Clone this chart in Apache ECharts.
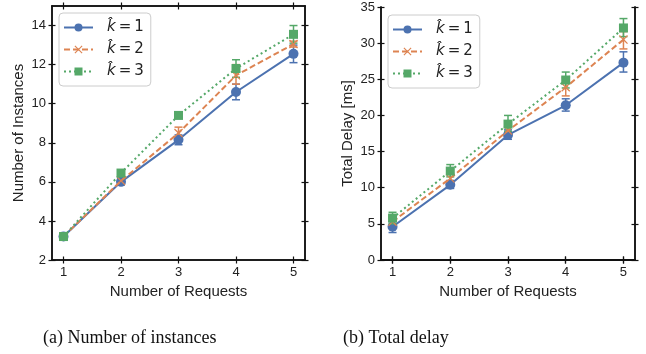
<!DOCTYPE html>
<html><head><meta charset="utf-8">
<script src="https://cdn.jsdelivr.net/npm/echarts@6/dist/echarts.min.js"></script>
<style>html,body{margin:0;padding:0;background:#fff}#c{width:646px;height:354px}</style>
</head><body><div id="c"></div>
<script>
const requests = [1, 2, 3, 4, 5];
const seriesNames = ['k1', 'k2', 'k3'];
const seriesLabels = ['1', '2', '3'];
const instTicks = [2, 4, 6, 8, 10, 12, 14];
const delayTicks = [0, 5, 10, 15, 20, 25, 30, 35];

const instK1 = [3.2, 6.0, 8.15, 10.6, 12.55];
const instK1Lo = [3.2, 5.85, 7.9, 10.2, 12.1];
const instK1Hi = [3.2, 6.15, 8.4, 11.0, 13.0];
const instK2 = [3.2, 6.05, 8.5, 11.45, 13.05];
const instK2Lo = [3.2, 5.85, 8.2, 11.0, 12.9];
const instK2Hi = [3.2, 6.25, 8.8, 12.0, 13.2];
const instK3 = [3.2, 6.45, 9.4, 11.8, 13.55];
const instK3Lo = [3.2, 6.3, 9.25, 11.35, 13.1];
const instK3Hi = [3.2, 6.6, 9.55, 12.25, 14.0];

const delayK1 = [4.6, 10.4, 17.3, 21.4, 27.3];
const delayK1Lo = [3.8, 9.9, 16.7, 20.6, 26.0];
const delayK1Hi = [5.3, 11.0, 18.0, 22.3, 28.8];
const delayK2 = [5.3, 11.3, 17.9, 23.9, 30.5];
const delayK2Lo = [4.6, 10.6, 17.2, 22.7, 29.2];
const delayK2Hi = [6.0, 12.0, 18.7, 25.2, 31.6];
const delayK3 = [5.8, 12.3, 18.8, 24.9, 32.1];
const delayK3Lo = [5.0, 11.5, 17.8, 23.8, 30.9];
const delayK3Hi = [6.6, 13.2, 20.0, 26.0, 33.4];

const colors = ['#4C72B0', '#DD8452', '#55A868'];
const lineTypes = ['solid', [6, 3], [2, 3]];
const xSym = 'path://M1,0L5,4L9,0L10,1L6,5L10,9L9,10L5,6L1,10L0,9L4,5L0,1Z';
const symbols = ['circle', xSym, 'rect'];
const symSizes = [10, 9, 9];

const font = 'Liberation Sans, Arial, sans-serif';
const tickColor = '#222';

function xAxes(g) {
  const base = {gridIndex: g, type: 'value', min: 0.8, max: 5.2,
    axisLine: {lineStyle: {color: '#111', width: 1.5}}, splitLine: {show: false}};
  const tk = (inside) => ({show: true, inside: inside, length: 3.5, customValues: requests, lineStyle: {color: '#111', width: 1.2}});
  return [
    Object.assign({}, base, {position: 'bottom', axisTick: tk(false),
      axisLabel: {customValues: requests, color: tickColor, fontSize: 13, fontFamily: font, margin: 6},
      name: 'Number of Requests', nameLocation: 'middle', nameGap: 23,
      nameTextStyle: {color: tickColor, fontSize: 15, fontFamily: font}}),
    Object.assign({}, base, {position: 'bottom', axisTick: tk(true), axisLabel: {show: false}}),
    Object.assign({}, base, {position: 'top', axisTick: tk(false), axisLabel: {show: false}}),
    Object.assign({}, base, {position: 'top', axisTick: tk(true), axisLabel: {show: false}})
  ];
}
function yAxes(g, min, max, ticks, name) {
  const base = {gridIndex: g, type: 'value', min: min, max: max,
    axisLine: {show: true, lineStyle: {color: '#111', width: 1.5}}, splitLine: {show: false}};
  const tk = (inside) => ({show: true, inside: inside, length: 3.5, customValues: ticks, lineStyle: {color: '#111', width: 1.2}});
  return [
    Object.assign({}, base, {position: 'left', axisTick: tk(false),
      axisLabel: {customValues: ticks, color: tickColor, fontSize: 13, fontFamily: font, margin: 6},
      name: name, nameLocation: 'middle', nameGap: 26,
      nameTextStyle: {color: tickColor, fontSize: 15, fontFamily: font}}),
    Object.assign({}, base, {position: 'left', axisTick: tk(true), axisLabel: {show: false}}),
    Object.assign({}, base, {position: 'right', axisTick: tk(false), axisLabel: {show: false}}),
    Object.assign({}, base, {position: 'right', axisTick: tk(true), axisLabel: {show: false}})
  ];
}

function lineSeries(g, i, vals) {
  return {type: 'line', name: seriesNames[i], xAxisIndex: g * 4, yAxisIndex: g * 4,
    data: requests.map((r, k) => [r, vals[k]]),
    symbol: symbols[i], symbolSize: symSizes[i], showAllSymbol: true,
    lineStyle: {color: colors[i], width: 2, type: lineTypes[i]},
    itemStyle: {color: colors[i], borderWidth: 0},
    emphasis: {disabled: true}, animation: false, z: 3 + i};
}
function errSeries(g, i, lo, hi) {
  return {type: 'custom', name: 'err' + g + i, xAxisIndex: g * 4, yAxisIndex: g * 4,
    data: requests.map((r, k) => [r, lo[k], hi[k]]),
    renderItem: function (params, api) {
      const p1 = api.coord([api.value(0), api.value(1)]);
      const p2 = api.coord([api.value(0), api.value(2)]);
      const w = 4;
      const st = {stroke: colors[i], lineWidth: 1.5};
      return {type: 'group', children: [
        {type: 'line', shape: {x1: p1[0], y1: p1[1], x2: p2[0], y2: p2[1]}, style: st},
        {type: 'line', shape: {x1: p1[0] - w, y1: p1[1], x2: p1[0] + w, y2: p1[1]}, style: st},
        {type: 'line', shape: {x1: p2[0] - w, y1: p2[1], x2: p2[0] + w, y2: p2[1]}, style: st}
      ]};
    },
    animation: false, z: 2 + i, silent: true};
}

const inst = [[instK1, instK1Lo, instK1Hi], [instK2, instK2Lo, instK2Hi], [instK3, instK3Lo, instK3Hi]];
const delay = [[delayK1, delayK1Lo, delayK1Hi], [delayK2, delayK2Lo, delayK2Hi], [delayK3, delayK3Lo, delayK3Hi]];
const series = [];
[inst, delay].forEach((set, g) => {
  set.forEach((s, i) => {
    series.push(errSeries(g, i, s[1], s[2]));
    series.push(lineSeries(g, i, s[0]));
  });
});

function legend(left, top) {
  return {orient: 'vertical', left: left, top: top, itemWidth: 29, itemHeight: 10, itemGap: 7,
    padding: [7, 7, 7, 4], borderColor: '#ccc', borderWidth: 1, borderRadius: 4,
    backgroundColor: 'rgba(255,255,255,0.85)',
    data: seriesNames, selectedMode: false,
    formatter: function (n) { return '{k|k\u0302}{t|\u2009=\u2009' + seriesLabels[seriesNames.indexOf(n)] + '}'; },
    textStyle: {color: tickColor, fontSize: 15, padding: [0, 0, 0, 9],
      rich: {
        k: {fontFamily: 'DejaVu Sans', fontStyle: 'italic', fontSize: 15, color: tickColor, lineHeight: 18},
        t: {fontFamily: 'DejaVu Sans', fontSize: 15, color: tickColor, lineHeight: 18}
      }}};
}

const chart = echarts.init(document.getElementById('c'), null, {renderer: 'canvas'});
chart.setOption({
  backgroundColor: '#fff',
  animation: false,
  grid: [
    {left: 52, top: 6, width: 253, height: 254, containLabel: false, outerBoundsMode: 'none'},
    {left: 381, top: 7, width: 254, height: 253, containLabel: false, outerBoundsMode: 'none'}
  ],
  legend: [legend(59, 13), legend(388, 15)],
  xAxis: xAxes(0).concat(xAxes(1)),
  yAxis: yAxes(0, 2, 15, instTicks, 'Number of Instances').concat(yAxes(1, 0, 35, delayTicks, 'Total Delay [ms]')),
  series: series,
  graphic: [
    {type: 'text', left: 43, top: 329, style: {text: '(a) Number of instances', font: '18px "Liberation Serif", "Times New Roman", serif', fill: '#111'}},
    {type: 'text', left: 343, top: 329, style: {text: '(b) Total delay', font: '18px "Liberation Serif", "Times New Roman", serif', fill: '#111'}}
  ]
});
</script></body></html>
